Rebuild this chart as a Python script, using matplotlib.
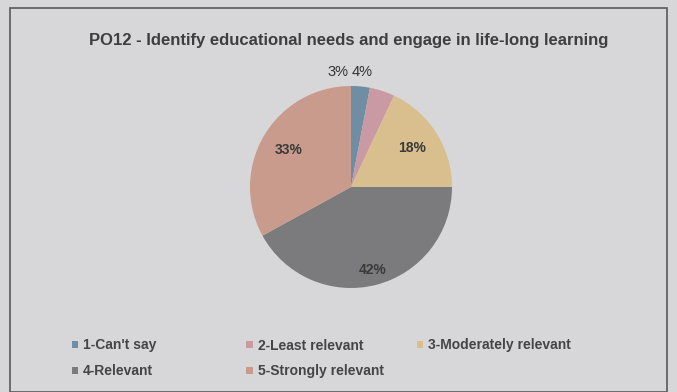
import matplotlib.pyplot as plt
import numpy as np

plt.rcParams['font.family'] = ['Liberation Sans', 'DejaVu Sans']

categories = ['1-Can\'t say', '2-Least relevant', '3-Moderately relevant',
              '4-Relevant', '5-Strongly relevant']
values = [3, 4, 18, 42, 33]
colors = ['#6f8ea3', '#c99aa4', '#d9be8e', '#7b7b7d', '#c99b8c']

W, H = 677, 392
fig = plt.figure(figsize=(W / 100, H / 100), dpi=100)
fig.patch.set_facecolor('#d7d6d8')

# chart frame
fig.add_artist(plt.Rectangle((10 / W, 0), 657 / W, 384 / H, transform=fig.transFigure,
                             fill=False, edgecolor='#5a5a5a', linewidth=1.2))

fig.text(349 / W, 1 - 41 / H, 'PO12 - Identify educational needs and engage in life-long learning',
         ha='center', va='center', fontsize=12, fontweight='bold', color='#3e3e3e')

cx, cy, r = 351, 187, 101
ax = fig.add_axes([(cx - r) / W, 1 - (cy + r) / H, 2 * r / W, 2 * r / H])
wedges, texts, autotexts = ax.pie(values, colors=colors, startangle=90, counterclock=False,
                                  autopct='%d%%', pctdistance=0.75,
                                  wedgeprops=dict(linewidth=0))
ax.set_xlim(-1, 1)
ax.set_ylim(-1, 1)
ax.set_aspect('equal')
ax.axis('off')

# label distances per slice
dists = [1.14, 1.14, 0.72, 0.85, 0.72]
for w, t, d in zip(wedges, autotexts, dists):
    ang = np.deg2rad((w.theta1 + w.theta2) / 2)
    t.set_position((d * np.cos(ang), d * np.sin(ang)))
    t.set_clip_on(False)
    if d > 1:
        t.set_fontsize(10.5)
        t.set_color('#333333')
    else:
        t.set_fontsize(10)
        t.set_fontweight('bold')
        t.set_color('#3a3a3a')
# the two small outside labels sit side by side on one line
autotexts[0].set_position((-0.13, 1.14))
autotexts[1].set_position((0.11, 1.14))

# legend laid out in three columns, row-major
cols = [[0, 3], [1, 4], [2]]
xs = [59, 234, 404]
for xi, idx in zip(xs, cols):
    fig.legend([wedges[i] for i in idx], [categories[i] for i in idx],
               loc='upper left', bbox_to_anchor=(xi / W, 1 - 326 / H),
               frameon=False, handlelength=0.45, handleheight=0.45,
               handletextpad=0.35, labelspacing=0.85,
               prop=dict(weight='bold', size=10), labelcolor='#454545')

fig.savefig('out.png', dpi=100, facecolor=fig.get_facecolor())
